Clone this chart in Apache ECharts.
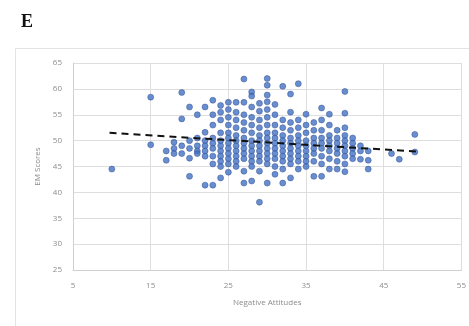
<!DOCTYPE html>
<html>
<head>
<meta charset="utf-8">
<script src="https://cdn.jsdelivr.net/npm/echarts@6/dist/echarts.min.js"></script>
<style>
  html, body { margin: 0; padding: 0; background: #fff; }
  #chart { width: 469px; height: 326px; }
</style>
</head>
<body>
<div id="chart"></div>
<script>
// Negative attitude values (x) and the EM scores seen at each of them
const attitudeValues = [10, 15, 17, 18, 19, 20, 21, 22, 23, 24, 25, 26, 27, 28, 29, 30,
  31, 32, 33, 34, 35, 36, 37, 38, 39, 40, 41, 42, 43, 46, 47, 49];
const emByAttitude = [
  [44.5],
  [58.4, 49.2],
  [48, 46.2],
  [49.7, 48.5, 47.5],
  [59.3, 54.2, 49, 47.5],
  [56.5, 50, 48.5, 46.6, 43.1],
  [55, 50.5, 49, 48, 47.5],
  [56.5, 51.6, 50, 49, 48, 47, 41.4],
  [57.8, 55, 53, 50.5, 49.5, 48.5, 47, 45.5, 41.4],
  [56.8, 55.5, 54, 51.5, 50, 49, 48, 47, 46, 45, 42.8],
  [57.4, 56, 54.5, 53, 51.5, 50.5, 49.5, 48.5, 47.5, 46.5, 45.5, 43.9],
  [57.4, 55.5, 54, 52.5, 51, 50, 49, 48, 47, 46, 45],
  [61.9, 57.4, 55, 53.5, 52, 50.5, 49.5, 48.5, 47.5, 46.5, 44.1, 41.8],
  [59.4, 58.6, 56.5, 54.5, 53, 51.5, 50, 49, 48, 47, 46, 45, 42.2],
  [57.2, 55.7, 54, 52.5, 51, 50, 49, 48, 47, 46, 44.1, 38.1],
  [62, 60.7, 58.8, 57.5, 56, 54.5, 53, 51.5, 50.5, 49.5, 48.5, 47.5, 46.5, 45.5, 41.8],
  [57, 55, 53, 51.5, 50.5, 49.5, 48.5, 47.5, 46.5, 45, 43.5],
  [60.5, 54, 52.5, 51, 50, 49, 48, 47, 46, 44.5, 41.8],
  [59, 55.5, 53.5, 52, 50.5, 49.5, 48.5, 47.5, 46.5, 45.5, 42.8],
  [61, 54, 52.5, 51, 50, 49, 48, 47, 46, 44.5],
  [55.1, 53, 51.5, 50, 49, 48, 47, 46, 45],
  [53.5, 52, 50.5, 49.5, 48.5, 47.5, 46, 43.1],
  [56.3, 54, 52, 50.5, 49.5, 48.5, 47, 45.5, 43.1],
  [55.1, 53, 51, 50, 49, 48, 46.5, 44.5],
  [52, 50.5, 49.5, 48.5, 47.5, 46, 44.5],
  [59.5, 55.3, 52.5, 51, 50, 49, 48, 47, 45.5, 44],
  [50.5, 49.5, 48.5, 47.5, 46.5],
  [49, 48, 46.4],
  [48, 46.2, 44.5],
  [47.5],
  [46.4],
  [51.2, 47.8]
];

// Linear trend line end points
const trendX = [9.7, 49.2];
const trendY = [51.5, 47.9];

const xTicks = [5, 15, 25, 35, 45, 55];
const yTicks = [25, 30, 35, 40, 45, 50, 55, 60, 65];

const points = [];
attitudeValues.forEach((x, i) => {
  emByAttitude[i].forEach((y) => points.push([x, y]));
});

const chart = echarts.init(document.getElementById("chart"), null, { renderer: "canvas" });

const labelColor = "#8c8c8c";
const gridColor = "#dedede";
const font = "Open Sans";

const option = {
  backgroundColor: "#fff",
  animation: false,
  graphic: [
    {
      type: "text",
      left: 21,
      top: 13,
      style: {
        text: "E",
        font: "bold 18px 'Liberation Serif'",
        fill: "#111",
      },
    },
    {
      type: "rect",
      shape: { x: 15.5, y: 48.5, width: 470, height: 290 },
      style: { fill: "none", stroke: "#e3e3e3", lineWidth: 1 },
      silent: true,
    },
  ],
  grid: {
    left: 73,
    right: 6,
    top: 63,
    bottom: 56,
  },
  xAxis: {
    type: "value",
    min: xTicks[0],
    max: xTicks[xTicks.length - 1],
    interval: 10,
    name: "Negative Attitudes",
    nameLocation: "middle",
    nameGap: 29,
    nameTextStyle: { color: labelColor, fontFamily: font, fontSize: 8 },
    axisLine: { show: true, lineStyle: { color: "#d0d0d0" } },
    axisTick: { show: false },
    axisLabel: { color: labelColor, fontFamily: font, fontSize: 8, margin: 12 },
    splitLine: { show: true, lineStyle: { color: gridColor } },
  },
  yAxis: {
    type: "value",
    min: yTicks[0],
    max: yTicks[yTicks.length - 1],
    interval: 5,
    name: "EM Scores",
    nameLocation: "middle",
    nameGap: 30,
    nameTextStyle: { color: labelColor, fontFamily: font, fontSize: 8 },
    axisLine: { show: true, lineStyle: { color: "#d0d0d0" } },
    axisTick: { show: false },
    axisLabel: { color: labelColor, fontFamily: font, fontSize: 8, margin: 11 },
    splitLine: { show: true, lineStyle: { color: gridColor } },
  },
  series: [
    {
      name: "EM Scores",
      type: "scatter",
      data: points,
      symbol: "circle",
      symbolSize: 6,
      itemStyle: {
        color: "#4472C4",
        borderColor: "#2f4f8f",
        borderWidth: 0.6,
      },
      z: 2,
    },
    {
      name: "Trend",
      type: "line",
      data: trendX.map((x, i) => [x, trendY[i]]),
      symbol: "none",
      lineStyle: { color: "#111", width: 2, type: [7, 5] },
      z: 3,
    },
  ],
};

chart.setOption(option);
</script>
</body>
</html>
